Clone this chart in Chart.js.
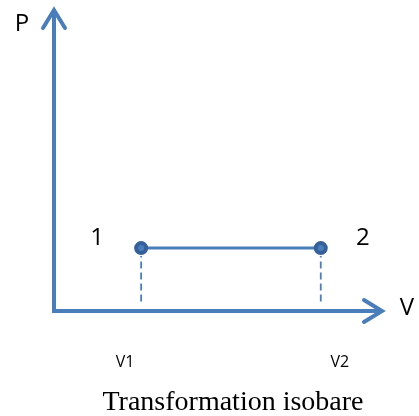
<!DOCTYPE html>
<html>
<head>
<meta charset="utf-8">
<script src="https://cdn.jsdelivr.net/npm/chart.js@4.4.0/dist/chart.umd.min.js"></script>
<style>
html,body{margin:0;padding:0;background:#fff;}
#wrap{width:419px;height:416px;position:relative;}
</style>
</head>
<body>
<div id="wrap"><canvas id="c" width="419" height="416"></canvas></div>
<script>
// ---- data ----
const volumes = [1.96, 6];       // V1, V2
const pressure = [2, 2];         // isobaric: P1 = P2
const pointLabels = ['1', '2'];
const volumeLabels = ['V1', 'V2'];
const axisLabels = ['V', 'P'];
const axisMax = [7.4, 9.6];      // x max, y max
const titleText = 'Transformation isobare';

const BLUE = '#4A7EBB';
const DARK = '#36609A';

const isobar = volumes.map((v, i) => ({x: v, y: pressure[i]}));
const dashes = volumes.map((v, i) => ({
  label: 'd' + i,
  data: [{x: v, y: 0.3}, {x: v, y: pressure[i] - 0.25}],
  borderColor: BLUE, borderWidth: 1.8, borderDash: [7, 4],
  pointRadius: 0, showLine: true, clip: false, order: 3
}));

const SANS = '"Open Sans", "Liberation Sans", sans-serif';

const axesPlugin = {
  id: 'axesPlugin',
  beforeDatasetsDraw(chart) {
    const ctx = chart.ctx, xs = chart.scales.x, ys = chart.scales.y;
    const x0 = xs.getPixelForValue(0), y0 = ys.getPixelForValue(0);
    const xe = xs.getPixelForValue(axisMax[0]), ye = ys.getPixelForValue(axisMax[1]);
    ctx.save();
    ctx.strokeStyle = BLUE; ctx.lineWidth = 4; ctx.lineCap = 'butt';
    ctx.beginPath();
    ctx.moveTo(x0, y0 + 2); ctx.lineTo(x0, ye + 2);
    ctx.moveTo(x0 - 2, y0); ctx.lineTo(xe - 2, y0);
    ctx.stroke();
    ctx.lineCap = 'round'; ctx.lineJoin = 'miter';
    ctx.beginPath();
    ctx.moveTo(x0 - 11, ye + 19); ctx.lineTo(x0, ye + 1); ctx.lineTo(x0 + 11, ye + 19);
    ctx.moveTo(xe - 19, y0 - 11); ctx.lineTo(xe - 1, y0); ctx.lineTo(xe - 19, y0 + 11);
    ctx.stroke();
    ctx.restore();
  },
  afterDraw(chart) {
    const ctx = chart.ctx, xs = chart.scales.x, ys = chart.scales.y;
    const x0 = xs.getPixelForValue(0), y0 = ys.getPixelForValue(0);
    const xe = xs.getPixelForValue(axisMax[0]), ye = ys.getPixelForValue(axisMax[1]);
    ctx.save();
    ctx.fillStyle = '#000';
    ctx.textAlign = 'center'; ctx.textBaseline = 'middle';
    ctx.font = '24px ' + SANS;
    ctx.fillText(axisLabels[1], x0 - 32, ye + 15);
    ctx.fillText(axisLabels[0], xe + 24, y0 - 3);
    volumes.forEach((v, i) => {
      const px = xs.getPixelForValue(v), py = ys.getPixelForValue(pressure[i]);
      ctx.font = '24px ' + SANS;
      ctx.fillText(pointLabels[i], px + (i === 0 ? -44 : 42), py - 10);
      ctx.font = '16px ' + SANS;
      ctx.fillText(volumeLabels[i], px + (i === 0 ? -16 : 19), y0 + 51);
    });
    // title
    ctx.font = '28px "Liberation Serif", "Times New Roman", serif';
    ctx.textBaseline = 'alphabetic';
    ctx.fillText(titleText, 233, 410);
    ctx.restore();
  }
};

new Chart(document.getElementById('c'), {
  type: 'scatter',
  data: {
    datasets: [
      {
        label: 'isobare',
        data: isobar,
        showLine: true,
        borderColor: BLUE, borderWidth: 3,
        pointRadius: 5, pointBorderWidth: 4,
        pointBackgroundColor: BLUE, pointBorderColor: DARK,
        clip: false, order: 1
      },
      ...dashes
    ]
  },
  options: {
    responsive: false,
    animation: false,
    events: [],
    layout: {padding: {left: 54, right: 36, top: 8, bottom: 105}},
    scales: {
      x: {type: 'linear', min: 0, max: axisMax[0], display: false},
      y: {type: 'linear', min: 0, max: axisMax[1], display: false}
    },
    plugins: {
      legend: {display: false},
      tooltip: {enabled: false},
      title: {display: false}
    }
  },
  plugins: [axesPlugin]
});
</script>
</body>
</html>
